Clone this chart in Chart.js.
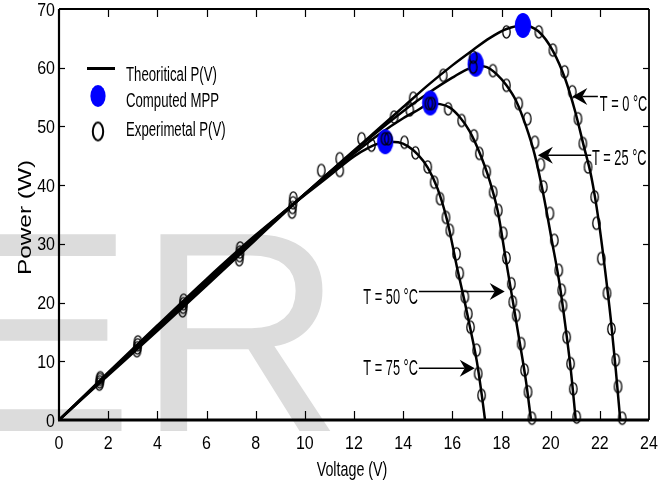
<!DOCTYPE html>
<html>
<head>
<meta charset="utf-8">
<script src="https://cdn.jsdelivr.net/npm/chart.js@4.4.1/dist/chart.umd.min.js"></script>
<style>
  html, body { margin: 0; padding: 0; background: #fff; }
  canvas { display: block; }
</style>
</head>
<body>
<canvas id="pvchart" width="666" height="486"></canvas>
<script>
// PV module power curves at four cell temperatures
const temps = ["0", "25", "50", "75"];

// theoretical P(V), one pair of arrays per temperature
const theoV0 = [0, 2, 4, 6, 8, 10, 12, 13, 14, 15, 16, 16.8, 17.5, 18.2, 18.9, 19.5, 20.1, 20.6, 21.0, 21.35, 21.65, 21.95, 22.2, 22.45, 22.65, 22.83];
const theoP0 = [0, 7.6, 15.2, 22.9, 30.7, 38.5, 45.9, 49.6, 53.3, 57.0, 60.4, 62.9, 65.0, 66.6, 67.2, 66.2, 62.8, 58.0, 52.5, 46.6, 41.5, 34.0, 26.0, 17.0, 8.5, 0];
const theoV25 = [0, 2, 4, 6, 8, 10, 12, 14, 15, 16, 16.6, 17.0, 17.4, 17.8, 18.2, 18.6, 19.0, 19.35, 19.7, 20.05, 20.35, 20.6, 20.82, 21.02];
const theoP25 = [0, 7.8, 15.5, 23.2, 31.0, 38.5, 45.8, 52.6, 55.6, 58.3, 59.7, 60.3, 60.1, 58.9, 57.0, 54.3, 50.0, 45.2, 38.5, 30.5, 23.5, 16.0, 8.5, 0];
const theoV50 = [0, 2, 4, 6, 8, 10, 12, 13, 14, 14.6, 15.1, 15.5, 15.9, 16.3, 16.7, 17.1, 17.5, 17.85, 18.15, 18.45, 18.75, 19.0, 19.2];
const theoP50 = [0, 7.9, 15.8, 23.6, 31.3, 38.5, 45.4, 48.6, 51.4, 52.8, 53.9, 53.8, 53.2, 51.6, 49.2, 45.6, 41.0, 35.5, 28.0, 20.5, 13.0, 6.5, 0];
const theoV75 = [0, 2, 4, 6, 8, 10, 11, 12, 12.6, 13.0, 13.4, 13.8, 14.2, 14.6, 15.0, 15.4, 15.8, 16.2, 16.5, 16.75, 17.0, 17.2, 17.33];
const theoP75 = [0, 8.1, 16.1, 24.0, 31.5, 38.3, 41.6, 44.9, 46.4, 47.1, 47.4, 47.3, 46.6, 45.2, 43.0, 39.4, 33.8, 25.8, 20.2, 15.2, 9.9, 4.2, 0];

// measured P(V)
const expV0 = [1.64, 3.17, 5.03, 7.33, 9.48, 11.42, 12.31, 13.63, 14.41, 15.63, 16.85, 18.2, 19.52, 20.09, 20.57, 20.88, 21.11, 21.31, 21.52, 21.79, 21.86, 22.06, 22.29, 22.47, 22.65, 22.74, 22.91];
const expP0 = [6.1, 11.8, 18.6, 27.3, 35.4, 44.5, 47.9, 51.6, 54.8, 58.7, 61.8, 66.1, 66.1, 63.0, 59.3, 55.9, 51.3, 47.1, 43.1, 38.0, 33.5, 27.5, 21.6, 15.5, 10.2, 5.7, 0.3];
const expV25 = [1.66, 3.19, 5.05, 7.35, 9.5, 11.42, 12.71, 14.27, 16.85, 17.65, 18.2, 18.7, 19.05, 19.36, 19.6, 19.7, 19.97, 20.15, 20.33, 20.45, 20.5, 20.65, 20.81, 20.92, 21.06];
const expP25 = [6.5, 12.3, 19.2, 28.0, 36.2, 42.5, 46.8, 52.8, 60.1, 59.5, 57.0, 53.9, 51.3, 47.3, 43.5, 39.7, 35.2, 30.6, 25.5, 22.1, 19.5, 14.1, 9.6, 5.3, 0.5];
const expV50 = [1.67, 3.2, 5.06, 7.36, 9.52, 10.67, 15.05, 15.16, 15.83, 16.38, 16.88, 17.1, 17.4, 17.66, 17.87, 18.07, 18.2, 18.4, 18.46, 18.6, 18.8, 18.94, 19.08, 19.24];
const expP50 = [6.9, 12.8, 19.8, 28.6, 37.0, 42.5, 53.9, 53.9, 53.0, 51.0, 48.4, 45.4, 42.3, 38.8, 35.7, 31.8, 27.6, 23.2, 20.1, 17.8, 13.0, 8.5, 4.8, 0.3];
const expV75 = [1.68, 3.21, 5.07, 7.37, 9.53, 13.26, 13.39, 14.05, 14.5, 15.0, 15.26, 15.5, 15.74, 15.9, 16.17, 16.3, 16.51, 16.65, 16.74, 16.99, 17.05, 17.19];
const expP75 = [7.2, 13.3, 20.4, 29.3, 37.8, 47.9, 47.9, 47.3, 45.5, 43.1, 40.5, 37.7, 34.5, 32.3, 28.3, 25.0, 21.0, 18.1, 15.8, 11.9, 7.9, 4.2];

// computed maximum power points, same temperature order
const mppV = [18.87, 16.95, 15.1, 13.27];
const mppP = [67.2, 60.6, 54.0, 47.4];

const xTicks = [0, 2, 4, 6, 8, 10, 12, 14, 16, 18, 20, 22, 24];
const yTicks = [0, 10, 20, 30, 40, 50, 60, 70];

// temperature labels with arrows, placed in data units
const notes = [
  { text: "T = 0 °C",  tipV: 20.88, tailV: 21.92, arrowP: 55.1, textV: 22.0, textP: 54.0, align: "left" },
  { text: "T = 25 °C", tipV: 19.48, tailV: 21.65, arrowP: 45.1, textV: 21.68, textP: 44.8, align: "left" },
  { text: "T = 50 °C", tipV: 18.13, tailV: 14.64, arrowP: 21.9, textV: 14.6, textP: 21.1, align: "right" },
  { text: "T = 75 °C", tipV: 16.91, tailV: 14.64, arrowP: 8.8, textV: 14.6, textP: 9.0, align: "right" }
];

const theoV = [theoV0, theoV25, theoV50, theoV75];
const theoP = [theoP0, theoP25, theoP50, theoP75];
const expV = [expV0, expV25, expV50, expV75];
const expP = [expP0, expP25, expP50, expP75];

const sans = "'Liberation Sans', Arial, Helvetica, sans-serif";

function ellipseSprite(w, h, rx, ry, fill, stroke, lw) {
  const c = document.createElement("canvas");
  c.width = w;
  c.height = h;
  const g = c.getContext("2d");
  g.beginPath();
  g.ellipse(w / 2, h / 2, rx, ry, 0, 0, Math.PI * 2);
  if (fill) { g.fillStyle = fill; g.fill(); }
  if (stroke) { g.lineWidth = lw; g.strokeStyle = stroke; g.stroke(); }
  return c;
}

const expMark = ellipseSprite(11, 16, 3.7, 6.1, null, "#000", 1.3);
const mppMark = ellipseSprite(18, 27, 8.2, 12.5, "#0000ff", null, 0);
const expMarkBig = ellipseSprite(16, 24, 5.2, 9, null, "#000", 2);
const mppMarkBig = ellipseSprite(18, 26, 7.6, 11, "#0000ff", null, 0);

const pts = (xs, ys) => xs.map((v, i) => ({ x: v, y: ys[i] }));

const datasets = [];
temps.forEach((t, k) => {
  datasets.push({
    label: "Theoritical P(V) " + t,
    data: pts(theoV[k], theoP[k]),
    borderColor: "#000",
    borderWidth: 2.5,
    pointRadius: 0,
    cubicInterpolationMode: "monotone",
    fill: false,
    order: 3
  });
});
datasets.push({
  label: "Computed MPP",
  data: pts(mppV, mppP),
  showLine: false,
  pointStyle: mppMark,
  pointRadius: 8,
  clip: false,
  order: 2
});
temps.forEach((t, k) => {
  datasets.push({
    label: "Experimetal P(V) " + t,
    data: pts(expV[k], expP[k]),
    showLine: false,
    pointStyle: expMark,
    pointRadius: 5,
    clip: false,
    order: 1
  });
});

// text drawn with its cap height centred on y, squeezed/stretched by sx, sy
function tallText(ctx, str, x, y, align, size, sx, sy, angle) {
  ctx.save();
  ctx.translate(x, y);
  if (angle) ctx.rotate(angle);
  ctx.scale(sx, sy);
  ctx.font = size + "px " + sans;
  ctx.textAlign = align;
  ctx.textBaseline = "alphabetic";
  ctx.fillStyle = "#000";
  ctx.fillText(str, 0, 0.358 * size);
  ctx.restore();
}

// white page with the faint lettering behind the plot
const backdrop = {
  id: "backdrop",
  beforeDraw(chart) {
    const ctx = chart.ctx;
    ctx.save();
    ctx.fillStyle = "#fff";
    ctx.fillRect(0, 0, chart.width, chart.height);
    ctx.fillStyle = "#dcdcdc";
    ctx.font = "286px " + sans;
    ctx.textBaseline = "alphabetic";
    ctx.fillText("E", -57, 431);
    ctx.fillText("R", 137, 431);
    ctx.restore();
  }
};

// boxed axes with inward ticks on all four sides, tick labels and axis titles
const frame = {
  id: "frame",
  afterDatasetsDraw(chart) {
    const { ctx, chartArea: a, scales: { x, y } } = chart;
    const seg = (x1, y1, x2, y2) => { ctx.beginPath(); ctx.moveTo(x1, y1); ctx.lineTo(x2, y2); ctx.stroke(); };
    ctx.save();
    ctx.strokeStyle = "#000";
    ctx.lineWidth = 1.2;
    x.ticks.forEach(t => {
      if (t.value <= x.min || t.value >= x.max) return;
      const px = Math.round(x.getPixelForValue(t.value)) + 0.5;
      seg(px, a.bottom, px, a.bottom - 9);
      seg(px, a.top, px, a.top + 8);
    });
    y.ticks.forEach(t => {
      if (t.value <= y.min || t.value >= y.max) return;
      const py = Math.round(y.getPixelForValue(t.value)) + 0.5;
      seg(a.left, py, a.left + 6, py);
      seg(a.right, py, a.right - 6, py);
    });
    ctx.lineWidth = 1.8;
    seg(a.left, a.top, a.right, a.top);
    seg(a.right, a.top, a.right, a.bottom);
    ctx.lineWidth = 2.2;
    seg(a.left, a.top, a.left, a.bottom);
    ctx.lineWidth = 2.8;
    seg(a.left - 1, a.bottom, a.right, a.bottom);
    ctx.restore();

    x.ticks.forEach(t => {
      tallText(ctx, String(t.value), x.getPixelForValue(t.value), a.bottom + 22, "center", 16, 1, 1.14);
    });
    y.ticks.forEach(t => {
      tallText(ctx, String(t.value), a.left - 4, y.getPixelForValue(t.value), "right", 16, 1, 1.14);
    });
    tallText(ctx, "Voltage (V)", (a.left + a.right) / 2 - 2, a.bottom + 49, "center", 14.3, 1, 1.4);
    tallText(ctx, "Power (W)", a.left - 35, (a.top + a.bottom) / 2 + 3, "center", 18.6, 1.31, 1, -Math.PI / 2);
  }
};

// legend box inside the plot, top left
const keyBox = {
  id: "keyBox",
  afterDraw(chart) {
    const { ctx, chartArea: a } = chart;
    const sx = a.left + 39;
    const tx = a.left + 67;
    ctx.save();
    ctx.strokeStyle = "#000";
    ctx.lineWidth = 3;
    ctx.beginPath();
    ctx.moveTo(a.left + 28, a.top + 59.5);
    ctx.lineTo(a.left + 56, a.top + 59.5);
    ctx.stroke();
    ctx.drawImage(mppMarkBig, sx - mppMarkBig.width / 2, a.top + 87 - mppMarkBig.height / 2);
    ctx.drawImage(expMarkBig, sx - expMarkBig.width / 2, a.top + 122.5 - expMarkBig.height / 2);
    ctx.restore();
    tallText(ctx, "Theoritical P(V)", tx, a.top + 64.5, "left", 13.2, 1, 1.5);
    tallText(ctx, "Computed MPP", tx, a.top + 91.3, "left", 13.2, 1, 1.5);
    tallText(ctx, "Experimetal P(V)", tx, a.top + 120.2, "left", 13.2, 1, 1.5);
  }
};

// temperature labels with barbed arrows
const tempNotes = {
  id: "tempNotes",
  afterDraw(chart) {
    const { ctx, scales: { x, y } } = chart;
    ctx.save();
    ctx.strokeStyle = "#000";
    ctx.fillStyle = "#000";
    ctx.lineWidth = 1.5;
    notes.forEach(n => {
      const tip = x.getPixelForValue(n.tipV);
      const tail = x.getPixelForValue(n.tailV);
      const py = y.getPixelForValue(n.arrowP);
      const dir = Math.sign(tip - tail);
      ctx.beginPath();
      ctx.moveTo(tail, py);
      ctx.lineTo(tip - dir * 10, py);
      ctx.stroke();
      ctx.beginPath();
      ctx.moveTo(tip, py);
      ctx.lineTo(tip - dir * 15, py - 8.5);
      ctx.lineTo(tip - dir * 10, py);
      ctx.lineTo(tip - dir * 15, py + 8.5);
      ctx.closePath();
      ctx.fill();
    });
    ctx.restore();
    notes.forEach(n => {
      tallText(ctx, n.text, x.getPixelForValue(n.textV), y.getPixelForValue(n.textP), n.align, 12.8, 1, 1.7);
    });
  }
};

new Chart(document.getElementById("pvchart").getContext("2d"), {
  type: "line",
  data: { datasets: datasets },
  options: {
    responsive: false,
    animation: false,
    events: [],
    layout: { padding: { left: 0, right: 17, top: 9, bottom: 0 } },
    plugins: {
      legend: { display: false },
      tooltip: { enabled: false }
    },
    scales: {
      x: {
        type: "linear",
        min: 0,
        max: 24,
        afterBuildTicks: s => { s.ticks = xTicks.map(v => ({ value: v })); },
        afterFit: s => { s.height = 66; },
        grid: { display: false },
        border: { display: false },
        ticks: { display: false }
      },
      y: {
        type: "linear",
        min: 0,
        max: 70,
        afterBuildTicks: s => { s.ticks = yTicks.map(v => ({ value: v })); },
        afterFit: s => { s.width = 59; },
        grid: { display: false },
        border: { display: false },
        ticks: { display: false }
      }
    }
  },
  plugins: [backdrop, frame, keyBox, tempNotes]
});
</script>
</body>
</html>
